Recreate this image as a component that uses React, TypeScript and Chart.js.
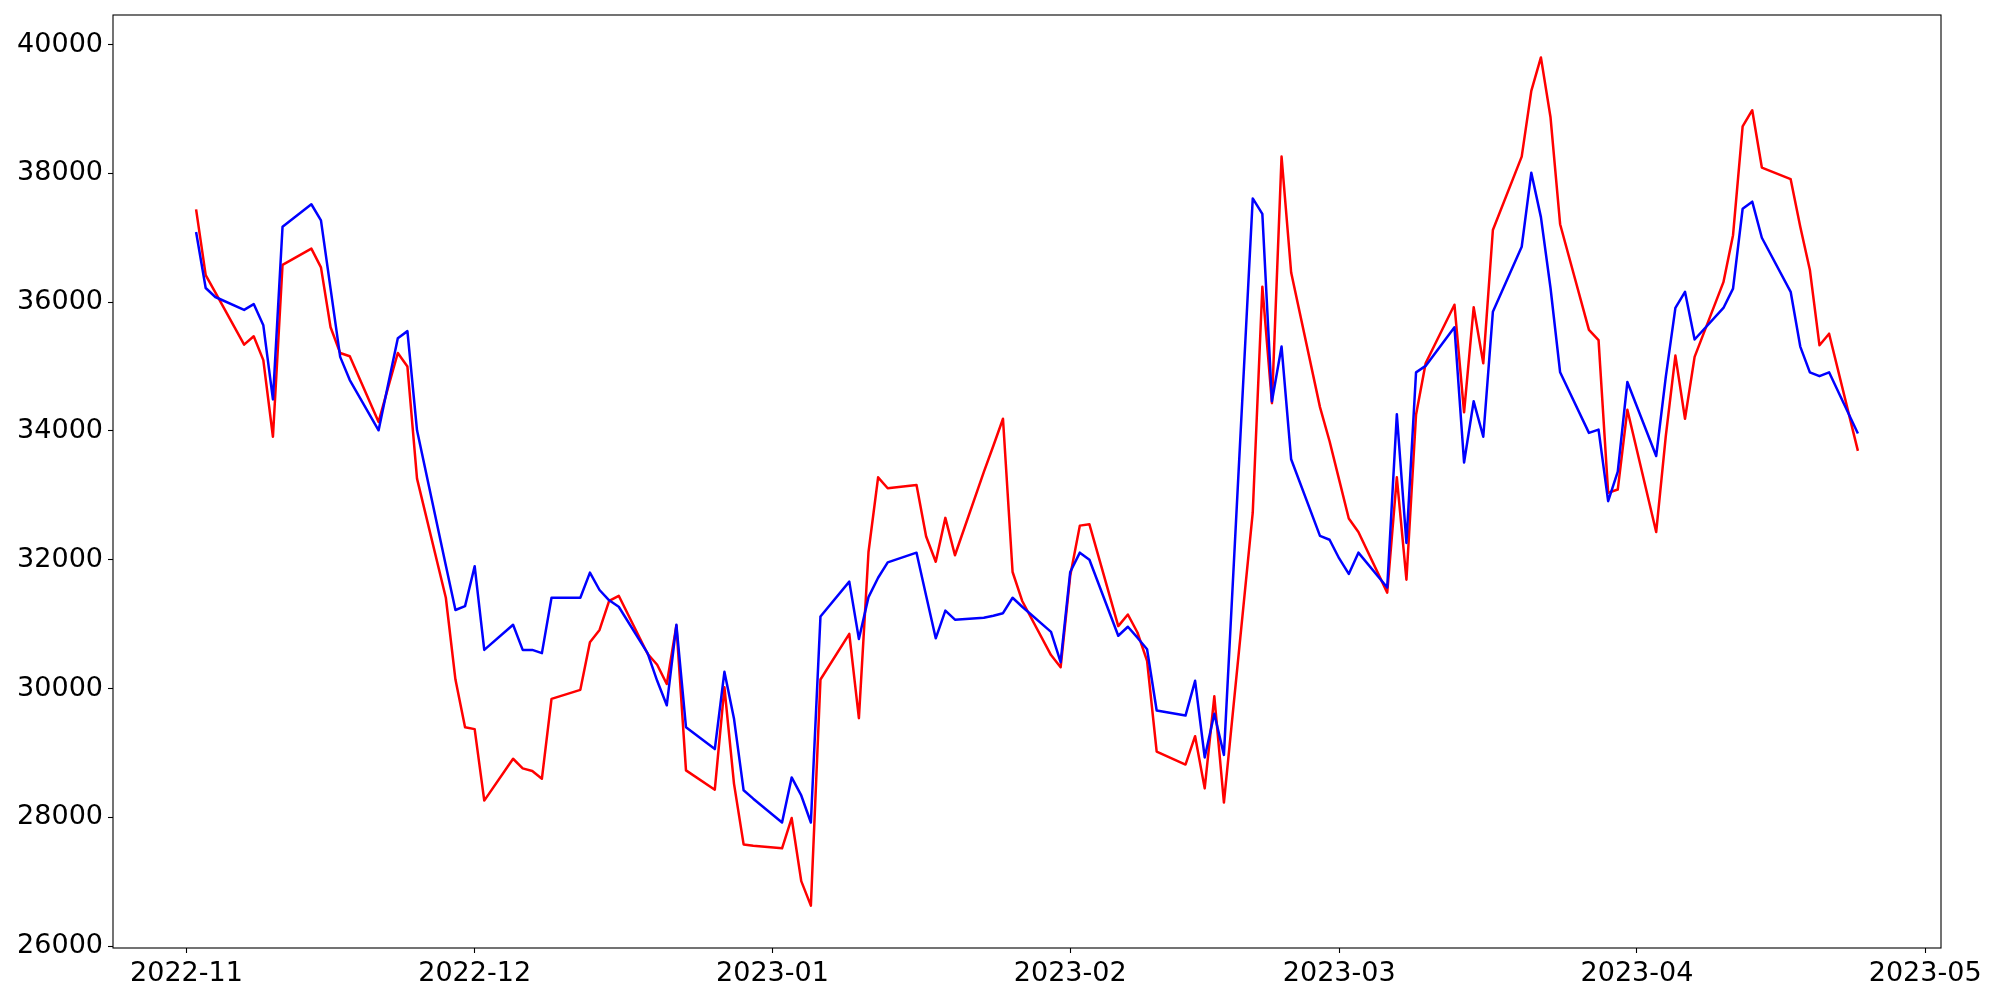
import React, { useEffect, useRef } from "react";
import { Chart, registerables } from "chart.js";

Chart.register(...registerables);

// Trading days shown on the x axis
const dates: string[] = [
  "2022-11-02", "2022-11-03", "2022-11-04", "2022-11-07", "2022-11-08", "2022-11-09", "2022-11-10", "2022-11-11",
  "2022-11-14", "2022-11-15", "2022-11-16", "2022-11-17", "2022-11-18", "2022-11-21", "2022-11-22", "2022-11-23",
  "2022-11-24", "2022-11-25", "2022-11-28", "2022-11-29", "2022-11-30",
  "2022-12-01", "2022-12-02", "2022-12-05", "2022-12-06", "2022-12-07", "2022-12-08", "2022-12-09", "2022-12-12",
  "2022-12-13", "2022-12-14", "2022-12-15", "2022-12-16", "2022-12-19", "2022-12-20", "2022-12-21", "2022-12-22",
  "2022-12-23", "2022-12-26", "2022-12-27", "2022-12-28", "2022-12-29", "2022-12-30",
  "2023-01-02", "2023-01-03", "2023-01-04", "2023-01-05", "2023-01-06", "2023-01-09", "2023-01-10", "2023-01-11",
  "2023-01-12", "2023-01-13", "2023-01-16", "2023-01-17", "2023-01-18", "2023-01-19", "2023-01-20", "2023-01-23",
  "2023-01-24", "2023-01-25", "2023-01-26", "2023-01-27", "2023-01-30", "2023-01-31",
  "2023-02-01", "2023-02-02", "2023-02-03", "2023-02-06", "2023-02-07", "2023-02-08", "2023-02-09", "2023-02-10",
  "2023-02-13", "2023-02-14", "2023-02-15", "2023-02-16", "2023-02-17", "2023-02-20", "2023-02-21", "2023-02-22",
  "2023-02-23", "2023-02-24", "2023-02-27", "2023-02-28",
  "2023-03-01", "2023-03-02", "2023-03-03", "2023-03-06", "2023-03-07", "2023-03-08", "2023-03-09", "2023-03-10",
  "2023-03-13", "2023-03-14", "2023-03-15", "2023-03-16", "2023-03-17", "2023-03-20", "2023-03-21", "2023-03-22",
  "2023-03-23", "2023-03-24", "2023-03-27", "2023-03-28", "2023-03-29", "2023-03-30", "2023-03-31",
  "2023-04-03", "2023-04-04", "2023-04-05", "2023-04-06", "2023-04-07", "2023-04-10", "2023-04-11", "2023-04-12",
  "2023-04-13", "2023-04-14", "2023-04-17", "2023-04-18", "2023-04-19", "2023-04-20", "2023-04-21", "2023-04-24",
];

// Red series
const redValues: number[] = [
  37440, 36420, 36150, 35340, 35470, 35100, 33910, 36580,
  36830, 36540, 35610, 35210, 35160, 34140, 34680, 35210,
  35000, 33260, 31410, 30140, 29400,
  29370, 28260, 28910, 28760, 28720, 28600, 29840, 29980,
  30720, 30910, 31360, 31440, 30540, 30370, 30070, 30980,
  28730, 28430, 30020, 28520, 27580, 27560,
  27520, 27990, 27010, 26630, 30140, 30850, 29540, 32120,
  33280, 33110, 33160, 32360, 31970, 32650, 32070, 33360,
  33770, 34190, 31810, 31360, 30520, 30330,
  31750, 32530, 32550, 30970, 31150, 30870, 30430, 29020,
  28820, 29260, 28450, 29880, 28230, 32730, 36240, 34430,
  38260, 36460, 34370, 33840,
  33240, 32640, 32430, 31490, 33280, 31690, 34250, 35050,
  35960, 34290, 35920, 35050, 37120, 38260, 39280, 39800,
  38870, 37210, 35570, 35410, 33040, 33090, 34330,
  32430, 33920, 35170, 34190, 35150, 36310, 37040, 38730,
  38980, 38090, 37910, 37170, 36500, 35330, 35510, 33690,
];

// Blue series
const blueValues: number[] = [
  37090, 36220, 36080, 35880, 35970, 35640, 34490, 37170,
  37520, 37270, 36210, 35150, 34790, 34010, 34730, 35440,
  35550, 34010, 31910, 31220, 31280,
  31900, 30600, 30990, 30600, 30600, 30550, 31410, 31410,
  31800, 31530, 31370, 31270, 30550, 30120, 29740, 30990,
  29400, 29060, 30260, 29530, 28420, 28290,
  27920, 28620, 28340, 27920, 31120, 31660, 30770, 31420,
  31720, 31960, 32110, 31440, 30780, 31210, 31070, 31100,
  31130, 31170, 31410, 31270, 30880, 30410,
  31810, 32110, 32000, 30820, 30960, 30790, 30610, 29660,
  29580, 30120, 28930, 29610, 28970, 37610, 37370, 34460,
  35310, 33560, 32370, 32310,
  32020, 31780, 32110, 31570, 34260, 32260, 34910, 35010,
  35610, 33510, 34460, 33910, 35850, 36860, 38010, 37320,
  36220, 34910, 33970, 34020, 32910, 33370, 34760,
  33610, 34840, 35910, 36160, 35420, 35910, 36210, 37450,
  37560, 37000, 36160, 35310, 34910, 34850, 34910, 33960,
];

const xTickLabels: string[] = ["2022-11", "2022-12", "2023-01", "2023-02", "2023-03", "2023-04", "2023-05"];
const yTickValues: number[] = [26000, 28000, 30000, 32000, 34000, 36000, 38000, 40000];

const ORIGIN = Date.UTC(2022, 10, 1);
const dayOf = (s: string): number => {
  const [y, m, d] = s.split("-").map(Number);
  return (Date.UTC(y, m - 1, d ?? 1) - ORIGIN) / 86400000;
};

export default function App() {
  const ref = useRef<HTMLCanvasElement | null>(null);

  useEffect(() => {
    if (!ref.current) return;
    const xs = dates.map(dayOf);
    const xLo = Math.min(...xs);
    const xHi = Math.max(...xs);
    const xPad = (xHi - xLo) * 0.05;
    const all = [...redValues, ...blueValues];
    const yLo = Math.min(...all);
    const yHi = Math.max(...all);
    const yPad = (yHi - yLo) * 0.05;

    const tickDays = xTickLabels.map((l) => dayOf(l + "-01"));
    const font = { family: "'DejaVu Sans', sans-serif", size: 27 };

    const framePlugin = {
      id: "frame",
      afterDraw(chart: any) {
        const { ctx, chartArea } = chart;
        ctx.save();
        ctx.strokeStyle = "#000";
        ctx.lineWidth = 1.1;
        ctx.strokeRect(chartArea.left, chartArea.top, chartArea.right - chartArea.left, chartArea.bottom - chartArea.top);
        ctx.restore();
      },
    };

    const chart = new Chart(ref.current, {
      type: "line",
      data: {
        datasets: [
          {
            label: "blue",
            data: dates.map((d, i) => ({ x: dayOf(d), y: blueValues[i] })),
            borderColor: "#0000ff",
            borderWidth: 2.5,
            pointRadius: 0,
            fill: false,
            tension: 0,
            borderJoinStyle: "round",
          },
          {
            label: "red",
            data: dates.map((d, i) => ({ x: dayOf(d), y: redValues[i] })),
            borderColor: "#ff0000",
            borderWidth: 2.5,
            pointRadius: 0,
            fill: false,
            tension: 0,
            borderJoinStyle: "round",
          },
        ],
      },
      options: {
        animation: false,
        responsive: false,
        devicePixelRatio: 1,
        layout: { padding: { top: 15, right: 59, left: 0, bottom: 0 } },
        plugins: {
          legend: { display: false },
          tooltip: { enabled: false },
          title: { display: false },
        },
        scales: {
          x: {
            type: "linear",
            min: xLo - xPad,
            max: xHi + xPad,
            afterBuildTicks: (scale: any) => {
              scale.ticks = tickDays.map((v) => ({ value: v }));
            },
            afterFit: (scale: any) => {
              scale.height = 52;
              scale.paddingLeft = 0;
              scale.paddingRight = 0;
            },
            ticks: {
              autoSkip: false,
              maxRotation: 0,
              minRotation: 0,
              padding: 5,
              color: "#000",
              font,
              callback: (v: any) => {
                const idx = tickDays.indexOf(Number(v));
                return idx >= 0 ? xTickLabels[idx] : "";
              },
            },
            grid: { drawOnChartArea: false, tickLength: 5, tickColor: "#000", tickWidth: 1.1 },
            border: { display: false },
          },
          y: {
            type: "linear",
            min: yLo - yPad,
            max: yHi + yPad,
            afterBuildTicks: (scale: any) => {
              scale.ticks = yTickValues.map((v) => ({ value: v }));
            },
            afterFit: (scale: any) => {
              scale.width = 113;
              scale.paddingTop = 0;
              scale.paddingBottom = 0;
            },
            ticks: {
              padding: 5,
              color: "#000",
              font,
              callback: (v: any) => String(v),
            },
            grid: { drawOnChartArea: false, tickLength: 5, tickColor: "#000", tickWidth: 1.1 },
            border: { display: false },
          },
        },
      },
      plugins: [framePlugin],
    } as any);

    return () => chart.destroy();
  }, []);

  return (
    <div style={{ position: "absolute", left: 0, top: 0, width: 2000, height: 1000, background: "#fff" }}>
      <canvas ref={ref} width={2000} height={1000} style={{ display: "block", width: 2000, height: 1000 }} />
    </div>
  );
}
